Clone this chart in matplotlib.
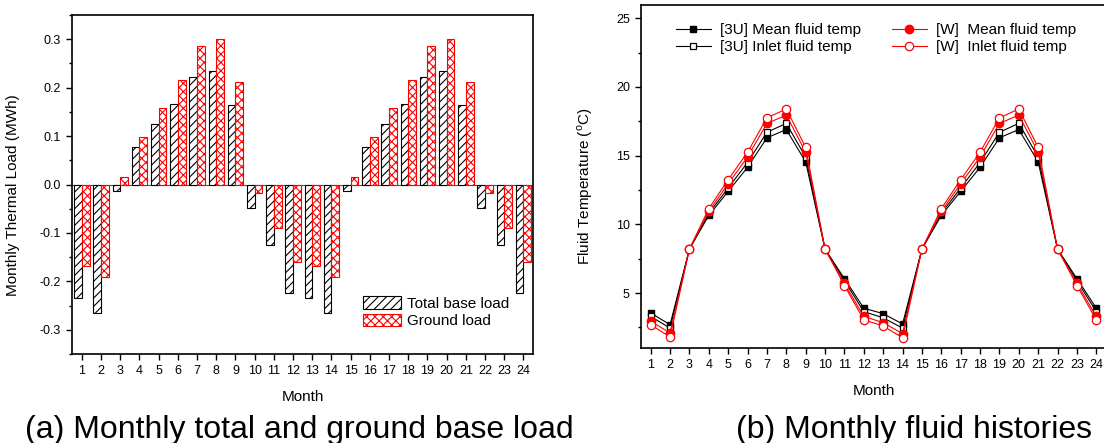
import matplotlib
matplotlib.use("Agg")
import matplotlib.pyplot as plt
from matplotlib.ticker import MultipleLocator
import numpy as np

plt.rcParams['font.family'] = ['Liberation Sans', 'DejaVu Sans']
plt.rcParams['mathtext.fontset'] = 'custom'
plt.rcParams['mathtext.rm'] = 'Liberation Sans'
plt.rcParams['axes.unicode_minus'] = False
plt.rcParams['hatch.linewidth'] = 0.8

# ---------------------------------------------------------------------------
# data
# ---------------------------------------------------------------------------
months = np.arange(1, 25)

total_base_load = [-0.235, -0.266, -0.013, 0.078, 0.124, 0.166, 0.223, 0.235, 0.165,
                   -0.048, -0.124, -0.224, -0.235, -0.266, -0.013, 0.078, 0.124, 0.166,
                   0.223, 0.235, 0.165, -0.048, -0.124, -0.224]
ground_load = [-0.168, -0.191, 0.016, 0.099, 0.158, 0.216, 0.287, 0.300, 0.211,
               -0.017, -0.090, -0.160, -0.168, -0.191, 0.016, 0.099, 0.158, 0.216,
               0.287, 0.300, 0.211, -0.017, -0.090, -0.160]

mean_3u = [3.55, 2.70, 8.2, 10.65, 12.40, 14.15, 16.30, 16.90, 14.55, 8.2, 6.05, 3.90,
           3.50, 2.75, 8.2, 10.65, 12.40, 14.15, 16.30, 16.90, 14.55, 8.2, 6.05, 3.90]
inlet_3u = [3.30, 2.45, 8.2, 10.80, 12.65, 14.50, 16.70, 17.35, 14.90, 8.2, 5.90, 3.65,
            3.20, 2.45, 8.2, 10.80, 12.65, 14.50, 16.70, 17.35, 14.90, 8.2, 5.90, 3.65]
mean_w = [2.95, 2.10, 8.2, 10.95, 12.95, 14.90, 17.35, 17.95, 15.25, 8.2, 5.70, 3.30,
          2.85, 2.05, 8.2, 10.95, 12.95, 14.90, 17.35, 17.95, 15.25, 8.2, 5.70, 3.30]
inlet_w = [2.70, 1.80, 8.2, 11.15, 13.25, 15.25, 17.75, 18.40, 15.60, 8.2, 5.55, 3.05,
           2.60, 1.75, 8.2, 11.15, 13.25, 15.25, 17.75, 18.40, 15.60, 8.2, 5.55, 3.05]

# ---------------------------------------------------------------------------
# figure
# ---------------------------------------------------------------------------
fig = plt.figure(figsize=(11.04, 4.43), dpi=100)
ax1 = fig.add_axes([0.0655, 0.2009, 0.4173, 0.7652])
ax2 = fig.add_axes([0.5806, 0.2144, 0.4212, 0.7754])


def style_axes(ax):
    for s in ax.spines.values():
        s.set_linewidth(1.2)
    ax.tick_params(which='major', direction='out', length=4.5, width=1.0,
                   labelsize=9, top=False, right=False)
    ax.tick_params(which='minor', direction='out', length=2.5, width=1.0,
                   top=False, right=False)


# (a) bars
w = 0.4
ax1.bar(months - w / 2, total_base_load, w, color='white', edgecolor='black',
        hatch='////', linewidth=0.8, label='Total base load')
ax1.bar(months + w / 2, ground_load, w, color='white', edgecolor='red',
        hatch='xxxx', linewidth=0.8, label='Ground load')
ax1.axhline(0, color='#555555', lw=0.8, zorder=0)
ax1.set_xlim(0.5, 24.5)
ax1.set_ylim(-0.35, 0.35)
ax1.set_xticks(months)
ax1.yaxis.set_minor_locator(MultipleLocator(0.05))
ax1.set_yticks(np.round(np.arange(-0.3, 0.31, 0.1), 1))
ax1.set_yticklabels(['-0.3', '-0.2', '-0.1', '0.0', '0.1', '0.2', '0.3'])
style_axes(ax1)
ax1.set_xlabel('Month', fontsize=11, labelpad=9)
ax1.set_ylabel('Monthly Thermal Load (MWh)', fontsize=11)
ax1.yaxis.set_label_coords(-0.113, 0.47)
ax1.legend(loc='upper left', bbox_to_anchor=(0.631, 0.17), frameon=False,
           fontsize=11, handlelength=2.5, handleheight=0.85, handletextpad=0.4,
           labelspacing=0.2, borderpad=0, borderaxespad=0)

# (b) lines
ax2.plot(months, mean_3u, color='black', lw=0.8, marker='s', ms=5,
         mfc='black', mec='black', label='[3U] Mean fluid temp')
ax2.plot(months, inlet_3u, color='black', lw=0.8, marker='s', ms=5,
         mfc='white', mec='black', mew=0.9, label='[3U] Inlet fluid temp')
ax2.plot(months, mean_w, color='red', lw=0.8, marker='o', ms=6,
         mfc='red', mec='red', label='[W]  Mean fluid temp')
ax2.plot(months, inlet_w, color='red', lw=0.8, marker='o', ms=6,
         mfc='white', mec='red', mew=0.9, label='[W]  Inlet fluid temp')
ax2.set_xlim(0.5, 24.5)
ax2.set_ylim(1, 26)
ax2.set_xticks(months)
ax2.yaxis.set_major_locator(MultipleLocator(5))
ax2.yaxis.set_minor_locator(MultipleLocator(2.5))
style_axes(ax2)
ax2.set_xlabel('Month', fontsize=11, labelpad=9)
ax2.set_ylabel('Fluid Temperature ($^{\\mathrm{o}}$C)', fontsize=11)
ax2.yaxis.set_label_coords(-0.099, 0.47)
ax2.legend(loc='upper left', bbox_to_anchor=(0.075, 0.945), ncol=2, frameon=False,
           fontsize=11, handlelength=2.3, handletextpad=0.6, columnspacing=2.0,
           labelspacing=0.2, borderpad=0, borderaxespad=0)

# captions
fig.text(0.271, 0.012, '(a) Monthly total and ground base load', fontsize=23,
         ha='center', va='baseline')
fig.text(0.828, 0.012, '(b) Monthly fluid histories', fontsize=23,
         ha='center', va='baseline')

fig.savefig('out.png', dpi=100)
